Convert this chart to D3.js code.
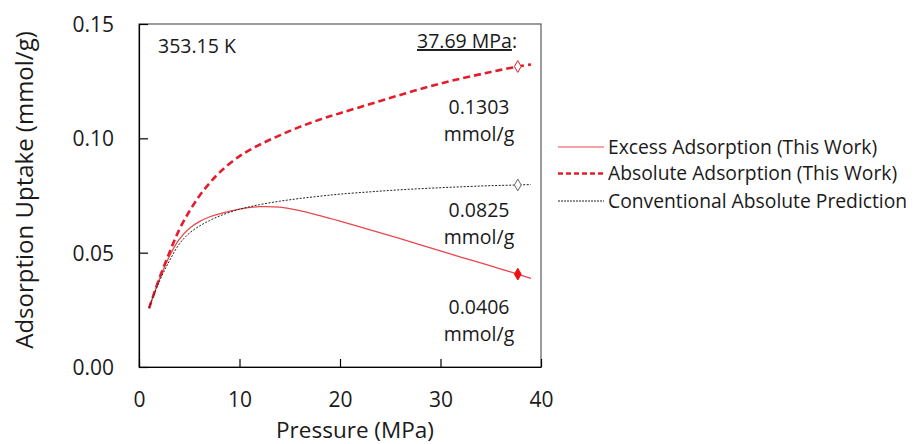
<!DOCTYPE html>
<html>
<head>
<meta charset="utf-8">
<script src="https://cdn.jsdelivr.net/npm/d3@7"></script>
<style>
  body { margin: 0; background: #fff; }
  text { font-family: "Open Sans", sans-serif; fill: #1a1a1a; }
</style>
</head>
<body>
<div id="chart"></div>
<script>
// pressure points (MPa) and the three isotherms (mmol/g)
const pressure     = [1, 2, 3, 4, 5, 6, 7, 8, 10, 12, 14, 16, 18, 20, 23, 26, 29, 32, 35, 37.69, 39];
const excess       = [0.0257, 0.0380, 0.0482, 0.0558, 0.0606, 0.0636, 0.0656, 0.0670, 0.0690, 0.0701, 0.0699, 0.0684, 0.0662, 0.0638, 0.0600, 0.0561, 0.0521, 0.0481, 0.0442, 0.0406, 0.0388];
const absolute     = [0.0257, 0.0385, 0.0497, 0.0600, 0.0680, 0.0748, 0.0803, 0.0850, 0.0922, 0.0972, 0.1013, 0.1050, 0.1082, 0.1110, 0.1150, 0.1190, 0.1228, 0.1261, 0.1290, 0.1314, 0.1323];
const conventional = [0.0257, 0.0372, 0.0462, 0.0537, 0.0585, 0.0616, 0.0640, 0.0660, 0.0690, 0.0710, 0.0725, 0.0737, 0.0747, 0.0756, 0.0766, 0.0775, 0.0782, 0.0788, 0.0793, 0.0796, 0.0798];
const highlightP = 37.69;
const xTicks = [0, 10, 20, 30, 40];
const yTicks = [0, 0.05, 0.10, 0.15];
const legendLabels = ["Excess Adsorption (This Work)", "Absolute Adsorption (This Work)", "Conventional Absolute Prediction"];
const valueLabels = ["0.1303", "0.0825", "0.0406"];

const W = 919, H = 444;
const margin = { top: 24, right: 378, bottom: 77, left: 139 };
const width = W - margin.left - margin.right;
const height = H - margin.top - margin.bottom;

const svg = d3.select("#chart").append("svg")
  .attr("width", W)
  .attr("height", H);

const chart = svg.append("g")
  .attr("transform", "translate(" + margin.left + "," + margin.top + ")");

const x = d3.scaleLinear().domain([0, 40]).range([0, width]);
const y = d3.scaleLinear().domain([0, 0.15]).range([height, 0]);

// frame
chart.append("rect")
  .attr("width", width)
  .attr("height", height)
  .attr("fill", "none")
  .attr("stroke", "#5a5a5a")
  .attr("stroke-width", 1.2);

const xAxis = chart.append("g")
  .attr("transform", "translate(0," + height + ")")
  .call(d3.axisBottom(x).tickValues(xTicks).tickSizeInner(-8).tickSizeOuter(0).tickPadding(25));

const yAxis = chart.append("g")
  .call(d3.axisLeft(y).tickValues(yTicks).tickFormat(d3.format(".2f")).tickSizeInner(-9).tickSizeOuter(0).tickPadding(25));

[xAxis, yAxis].forEach(a => {
  a.select(".domain").attr("stroke", "#000").attr("stroke-width", 1.2);
  a.selectAll(".tick line").attr("stroke", "#000").attr("stroke-width", 1.2);
  a.selectAll("text").style("font-family", "Open Sans").style("font-size", "21px").attr("fill", "#1a1a1a");
});
yAxis.selectAll("text").attr("dy", "0.36em");

// axis titles
svg.append("text")
  .attr("x", 355).attr("y", 438)
  .attr("text-anchor", "middle")
  .style("font-size", "22.5px")
  .text("Pressure (MPa)");

svg.append("text")
  .attr("transform", "translate(33,190) rotate(-90)")
  .attr("text-anchor", "middle")
  .style("font-size", "24px")
  .text("Adsorption Uptake (mmol/g)");

// series
const series = [
  { values: excess, color: "#e8474c", width: 1.3, dash: null },
  { values: absolute, color: "#e31d2b", width: 2.6, dash: "7,4" },
  { values: conventional, color: "#222", width: 1, dash: "2,1.5" }
];

const line = d3.line()
  .x(d => x(d[0]))
  .y(d => y(d[1]))
  .curve(d3.curveCatmullRom.alpha(0.5));

series.forEach(s => {
  chart.append("path")
    .datum(pressure.map((p, i) => [p, s.values[i]]))
    .attr("fill", "none")
    .attr("stroke", s.color)
    .attr("stroke-width", s.width)
    .attr("stroke-dasharray", s.dash)
    .attr("d", line);
});

// markers at 37.69 MPa
const hi = pressure.indexOf(highlightP);
const diamond = d3.symbol().type(d3.symbolDiamond).size(40);
const markers = [
  { v: absolute[hi], fill: "#fff", stroke: "#e31d2b" },
  { v: conventional[hi], fill: "#fff", stroke: "#666" },
  { v: excess[hi], fill: "#f01010", stroke: "#f01010" }
];
markers.forEach(m => {
  chart.append("path")
    .attr("d", diamond)
    .attr("transform", "translate(" + x(highlightP) + "," + y(m.v) + ")")
    .attr("fill", m.fill)
    .attr("stroke", m.stroke)
    .attr("stroke-width", 1);
});

// annotations
svg.append("text")
  .attr("x", 158).attr("y", 53)
  .style("font-size", "19.5px")
  .text("353.15 K");

const head = svg.append("text")
  .attr("x", 417).attr("y", 48)
  .style("font-size", "19.5px");
head.append("tspan").style("text-decoration", "underline").text("37.69 MPa");
head.append("tspan").text(":");

const valueY = [114, 217, 314];
valueLabels.forEach((t, i) => {
  svg.append("text")
    .attr("x", 479).attr("y", valueY[i])
    .attr("text-anchor", "middle")
    .style("font-size", "19.5px")
    .text(t);
  svg.append("text")
    .attr("x", 479).attr("y", valueY[i] + 27)
    .attr("text-anchor", "middle")
    .style("font-size", "19.5px")
    .text("mmol/g");
});

// legend
const legend = svg.append("g").attr("transform", "translate(558,147)");
legendLabels.forEach((t, i) => {
  const s = series[i];
  const row = legend.append("g").attr("transform", "translate(0," + [0, 26.5, 54][i] + ")");
  row.append("line")
    .attr("x1", 0).attr("x2", 46)
    .attr("stroke", s.color)
    .attr("stroke-width", i === 1 ? 2.4 : 1.2)
    .attr("stroke-dasharray", i === 1 ? "5,3" : (i === 2 ? "2,1" : null));
  row.append("text")
    .attr("x", 50).attr("y", 6.5)
    .style("font-size", "19.3px")
    .text(t);
});
</script>
</body>
</html>
